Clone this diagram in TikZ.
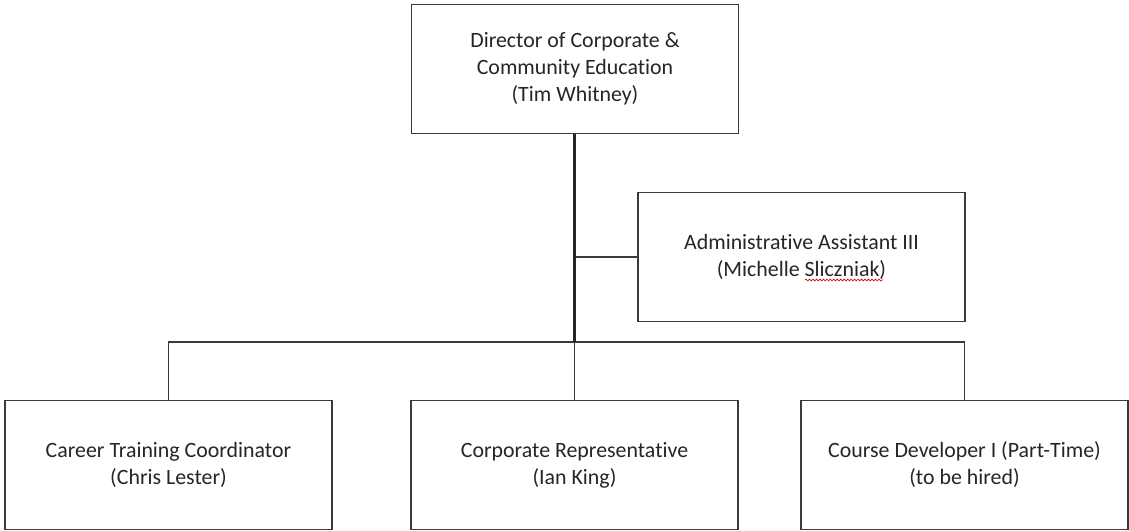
\documentclass[tikz,border=0pt]{standalone}
\usepackage{fontspec}
\setmainfont{Carlito}[Ligatures=NoCommon]
\usetikzlibrary{decorations.pathmorphing}
\definecolor{boxline}{HTML}{3A3A3A}
\definecolor{txt}{HTML}{262626}
\begin{document}
\begin{tikzpicture}[x=0.75pt,y=-0.75pt,
  box/.style={draw=boxline,line width=1.1pt,minimum width=245pt,minimum height=97pt,
    inner sep=0pt,align=center,text=txt,font=\fontsize{16.4}{20.25}\selectfont},
  thinline/.style={draw=boxline,line width=1.1pt},
  thickline/.style={draw=black!85,line width=2.4pt},
  spell/.style={draw=red!85!black,line width=0.5pt,decorate,decoration={snake,amplitude=0.7pt,segment length=2.6pt}}]
\useasboundingbox[fill=white] (0,0) rectangle (1129,531);
\node[box] (dir) at (575,69) {Director of Corporate \&\\Community Education\\(Tim Whitney)};
\node[box] (adm) at (801.5,257) {Administrative Assistant III\\(Michelle Sliczniak)};
\node[box] (ctc) at (168.5,465) {Career Training Coordinator\\(Chris Lester)};
\node[box] (cr) at (574.5,465) {Corporate Representative\\(Ian King)};
\node[box] (cd) at (964.5,465) {Course Developer I (Part-Time)\\(to be hired)};
\coordinate (j) at (574.5,342);
\coordinate (s1) at (805,280);
\coordinate (s2) at (883,280);
\draw[thinline] (ctc.north) -- (ctc.north |- j) -- (cd.north |- j) -- (cd.north);
\draw[thinline] (j) -- (cr.north);
\draw[thinline] (j |- adm.west) -- (adm.west);
\draw[thickline] (dir.south -| j) -- (j);
\draw[spell] (s1) -- (s2);
\end{tikzpicture}
\end{document}
